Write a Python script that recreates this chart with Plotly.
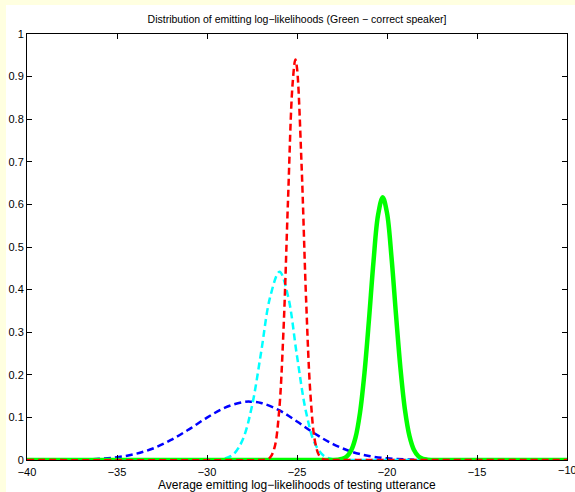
import plotly.graph_objects as go

# Emitting log-likelihood densities for four speaker models
blue_x = [-40, -38, -37, -36, -35, -34, -33, -32, -31, -30, -29, -28, -27.6, -27, -26,
          -25, -24, -23, -22, -21, -20, -19, -18, -16, -10]
blue_y = [0.0, 0.0003, 0.001, 0.0027, 0.0065, 0.014, 0.027, 0.047, 0.072, 0.0995, 0.123,
          0.1358, 0.137, 0.134, 0.117, 0.0904, 0.0617, 0.0373, 0.0199, 0.0094, 0.0039,
          0.0014, 0.0005, 0.0, 0.0]

cyan_x = [-40, -30, -29.5, -29, -28.5, -28, -27.5, -27, -26.5, -25.97, -25.5, -25,
          -24.5, -24, -23.5, -23, -22.5, -22, -10]
cyan_y = [0.0, 0.0, 0.0006, 0.0034, 0.0147, 0.0494, 0.127, 0.251, 0.381, 0.442, 0.385,
          0.244, 0.113, 0.038, 0.0094, 0.0017, 0.0002, 0.0, 0.0]

green_x = [-40, -23, -22.75, -22.5, -22.25, -22, -21.75, -21.5, -21.25, -21, -20.75,
           -20.5, -20.24, -20, -19.75, -19.5, -19.25, -19, -18.75, -18.5, -18.25, -18,
           -17.75, -17.5, -17, -10]
green_y = [0.0, 0.0002, 0.0007, 0.0025, 0.0078, 0.0217, 0.0525, 0.111, 0.205, 0.330,
           0.466, 0.574, 0.617, 0.580, 0.476, 0.341, 0.214, 0.117, 0.056, 0.0234, 0.0085,
           0.0027, 0.0008, 0.0002, 0.0, 0.0]

red_x = [-40, -27, -26.75, -26.5, -26.25, -26, -25.75, -25.5, -25.25, -25.09, -25,
         -24.75, -24.5, -24.25, -24, -23.75, -23.5, -23.25, -23, -10]
red_y = [0.0, 0.0, 0.0008, 0.0055, 0.029, 0.111, 0.305, 0.609, 0.88, 0.94, 0.92, 0.697,
         0.383, 0.152, 0.0437, 0.0091, 0.0014, 0.0002, 0.0, 0.0]

x_ticks = [-40, -35, -30, -25, -20, -15, -10]
y_ticks = [0, 0.1, 0.2, 0.3, 0.4, 0.5, 0.6, 0.7, 0.8, 0.9, 1]
x_tick_text = ["\u221240", "\u221235", "\u221230", "\u221225", "\u221220", "\u221215", "\u221210"]
y_tick_text = ["0", "0.1", "0.2", "0.3", "0.4", "0.5", "0.6", "0.7", "0.8", "0.9", "1"]

FONT = "Liberation Sans, Arial, sans-serif"
DASH = "7px,4px"

fig = go.Figure()
fig.add_trace(go.Scatter(x=blue_x, y=blue_y, mode="lines",
                         line=dict(color="#0000FF", width=2.5, dash=DASH, shape="spline")))
fig.add_trace(go.Scatter(x=cyan_x, y=cyan_y, mode="lines",
                         line=dict(color="#00FFFF", width=2.5, dash=DASH, shape="spline")))
fig.add_trace(go.Scatter(x=green_x, y=green_y, mode="lines",
                         line=dict(color="#00FF00", width=4.5, shape="spline")))
fig.add_trace(go.Scatter(x=red_x, y=red_y, mode="lines",
                         line=dict(color="#FF0000", width=2.5, dash=DASH, shape="spline")))

axis_common = dict(
    showline=True, linecolor="black", linewidth=1, mirror="ticks",
    ticks="inside", ticklen=5, tickwidth=1, tickcolor="black",
    showgrid=False, zeroline=False, automargin=False,
    tickfont=dict(family=FONT, size=11, color="black"),
)

# the last x tick label sits on the figure edge, so it is drawn as an annotation
edge_label = dict(x=x_ticks[-1], y=0, xref="x", yref="y", text=x_tick_text[-1],
                  showarrow=False, xanchor="center", yanchor="top", yshift=-2,
                  font=dict(family=FONT, size=11, color="black"))

fig.update_layout(
    width=575, height=492,
    margin=dict(l=27, r=8, t=34, b=32),
    paper_bgcolor="#FFFFE0",
    plot_bgcolor="white",
    showlegend=False,
    font=dict(family=FONT, size=11, color="black"),
    title=dict(text="Distribution of emitting log\u2212likelihoods (Green \u2212 correct speaker]",
               x=0.5, xref="paper", y=1 - 19 / 492, yref="container",
               xanchor="center", yanchor="middle",
               font=dict(size=10.5, color="black")),
    xaxis=dict(range=[-40, -10], tickvals=x_ticks, ticktext=x_tick_text[:-1] + [""],
               ticklabelstandoff=2, **axis_common),
    yaxis=dict(range=[0, 1], tickvals=y_ticks, ticktext=y_tick_text, **axis_common),
    annotations=[
        edge_label,
        dict(x=0.5, y=0, xref="paper", yref="paper", yshift=-25,
             text="Average emitting log\u2212likelihoods of testing utterance",
             showarrow=False, xanchor="center", yanchor="middle",
             font=dict(family=FONT, size=12, color="black")),
    ],
    shapes=[dict(type="rect", xref="paper", yref="paper",
                 x0=-0.0389, x1=1.05, y0=-0.15, y1=1.068,
                 fillcolor="white", line=dict(width=0), layer="below")],
)

fig.write_html("out.html")
